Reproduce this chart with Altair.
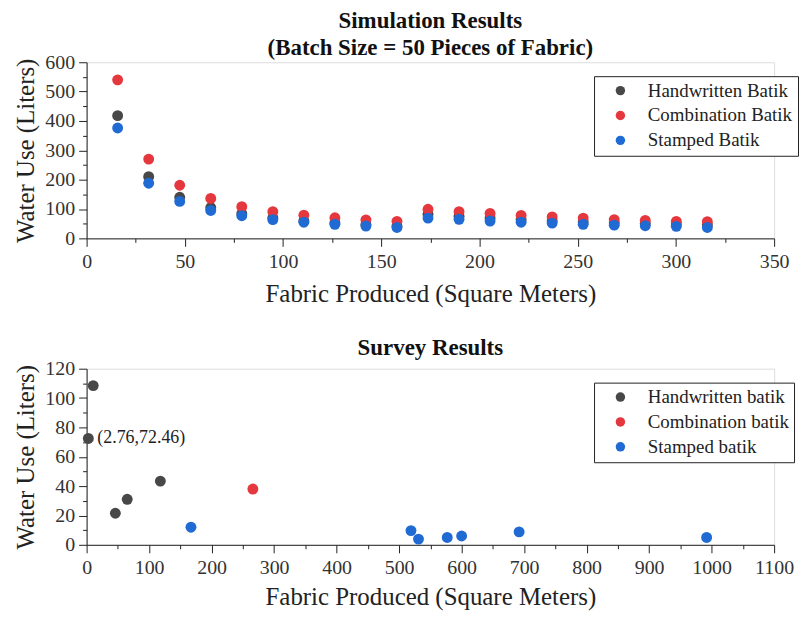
import altair as alt
import pandas as pd

SERIF = "Liberation Serif"

# ---- Simulation results ----
sim_x = [15.8, 31.6, 47.4, 63.2, 79.0, 94.8, 110.6, 126.4, 142.2, 158.0,
         173.8, 189.6, 205.4, 221.2, 237.0, 252.8, 268.6, 284.4, 300.2, 316.0]
sim_hand = [418, 210, 140, 105, 84, 70, 60, 53, 47, 42,
            82, 75, 69, 64, 60, 56, 53, 51, 49, 46]
sim_comb = [540, 270, 181, 136, 108, 91, 79, 70, 63, 58,
            99, 91, 85, 78, 73, 69, 64, 61, 58, 57]
sim_stamp = [376, 188, 126, 95, 77, 64, 55, 48, 42, 37,
             69, 65, 59, 55, 52, 48, 45, 43, 41, 37]
sim_labels = ["Handwritten Batik", "Combination Batik", "Stamped Batik"]

# ---- Survey results ----
sur_hand_x = [2.76, 10.6, 46, 65, 118]
sur_hand_y = [72.46, 108.5, 21.5, 31, 43.4]
sur_comb_x = [266]
sur_comb_y = [38]
sur_stamp_x = [167, 519, 531, 577, 600, 692, 992]
sur_stamp_y = [12, 9.7, 3.9, 5, 6, 8.8, 5]
sur_labels = ["Handwritten batik", "Combination batik", "Stamped batik"]

note_x = [2.76]
note_y = [72.46]
note_text = ["(2.76,72.46)"]

colors = ["#484848", "#e5383e", "#1f6bd3"]


def frame(xs, ys, label):
    return pd.DataFrame({"x": xs, "y": ys, "series": label})


sim_df = pd.concat([
    frame(sim_x, sim_hand, sim_labels[0]),
    frame(sim_x, sim_comb, sim_labels[1]),
    frame(sim_x, sim_stamp, sim_labels[2]),
], ignore_index=True)

sur_df = pd.concat([
    frame(sur_hand_x, sur_hand_y, sur_labels[0]),
    frame(sur_comb_x, sur_comb_y, sur_labels[1]),
    frame(sur_stamp_x, sur_stamp_y, sur_labels[2]),
], ignore_index=True)

note_df = pd.DataFrame({"x": note_x, "y": note_y, "t": note_text})


def axis(values, major, title, orient, tpad):
    horiz = orient == "bottom"
    return alt.Axis(
        values=values,
        title=title,
        orient=orient,
        grid=False,
        format="d",
        labelExpr=f"datum.value % {major} === 0 ? datum.label : ''",
        tickSize={"condition": {"test": f"datum.value % {major} === 0", "value": 8}, "value": 4},
        labelOverlap=False,
        labelFlush=False,
        domainColor="#222",
        tickColor="#222",
        labelColor="#333",
        labelFont=SERIF,
        labelFontSize=20,
        titleFont=SERIF,
        titleFontSize=25,
        titleFontWeight="normal",
        titleColor="#222",
        labelPadding=5 if horiz else 4,
        titlePadding=tpad,
    )


def encodings(xdom, xvals, xmaj, ydom, yvals, ymaj, xtpad):
    x = alt.X("x:Q", scale=alt.Scale(domain=xdom, nice=False),
              axis=axis(xvals, xmaj, "Fabric Produced (Square Meters)", "bottom", xtpad))
    y = alt.Y("y:Q", scale=alt.Scale(domain=ydom, nice=False),
              axis=axis(yvals, ymaj, "Water Use (Liters)", "left", 6))
    return x, y


def legend():
    return alt.Legend(
        title=None,
        orient="none",
        legendX=510,
        legendY=14,
        strokeColor="#222",
        fillColor="white",
        padding=5,
        labelFont=SERIF,
        labelFontSize=19,
        labelColor="#222",
        symbolType="circle",
        symbolSize=90,
        symbolStrokeWidth=0,
        symbolOffset=12,
        rowPadding=5,
        labelOffset=18,
    )


top_title = alt.TitleParams(
    "Simulation Results",
    subtitle="(Batch Size = 50 Pieces of Fabric)",
    font=SERIF, fontSize=23, fontWeight="bold", color="#111",
    subtitleFont=SERIF, subtitleFontSize=23, subtitleFontWeight="bold",
    subtitleColor="#111", subtitlePadding=4,
    anchor="middle", offset=-8, frame="group",
)
bot_title = alt.TitleParams(
    "Survey Results", font=SERIF, fontSize=23, fontWeight="bold", color="#111",
    anchor="middle", offset=-1, frame="group",
)

tx, ty = encodings([0, 350], list(range(0, 351, 25)), 50,
                   [0, 600], list(range(0, 601, 50)), 100, 10)
top = alt.Chart(sim_df).mark_circle(size=120, opacity=1).encode(
    x=tx, y=ty,
    color=alt.Color("series:N", scale=alt.Scale(domain=sim_labels, range=colors),
                    legend=legend(), sort=sim_labels),
).properties(width=691, height=177, title=top_title)

bx, by = encodings([0, 1100], list(range(0, 1101, 50)), 100,
                   [0, 120], list(range(0, 121, 10)), 20, 7)
bot_pts = alt.Chart(sur_df).mark_circle(size=120, opacity=1).encode(
    x=bx, y=by,
    color=alt.Color("series:N", scale=alt.Scale(domain=sur_labels, range=colors),
                    legend=legend(), sort=sur_labels),
)
note = alt.Chart(note_df).mark_text(
    align="left", baseline="middle", dx=9, font=SERIF, fontSize=18, color="#222"
).encode(x=bx, y=by, text="t:N")
bottom = alt.layer(bot_pts, note).properties(width=691, height=177, title=bot_title)

chart = alt.vconcat(top, bottom, spacing=29).resolve_scale(
    color="independent"
).resolve_legend(color="independent").configure_view(
    stroke="#222", strokeWidth=1
).configure(background="white").properties(
    padding={"left": 5, "top": 0, "right": 0, "bottom": 0}
)

chart.save("out.html", embed_options={"renderer": "svg", "actions": False})
